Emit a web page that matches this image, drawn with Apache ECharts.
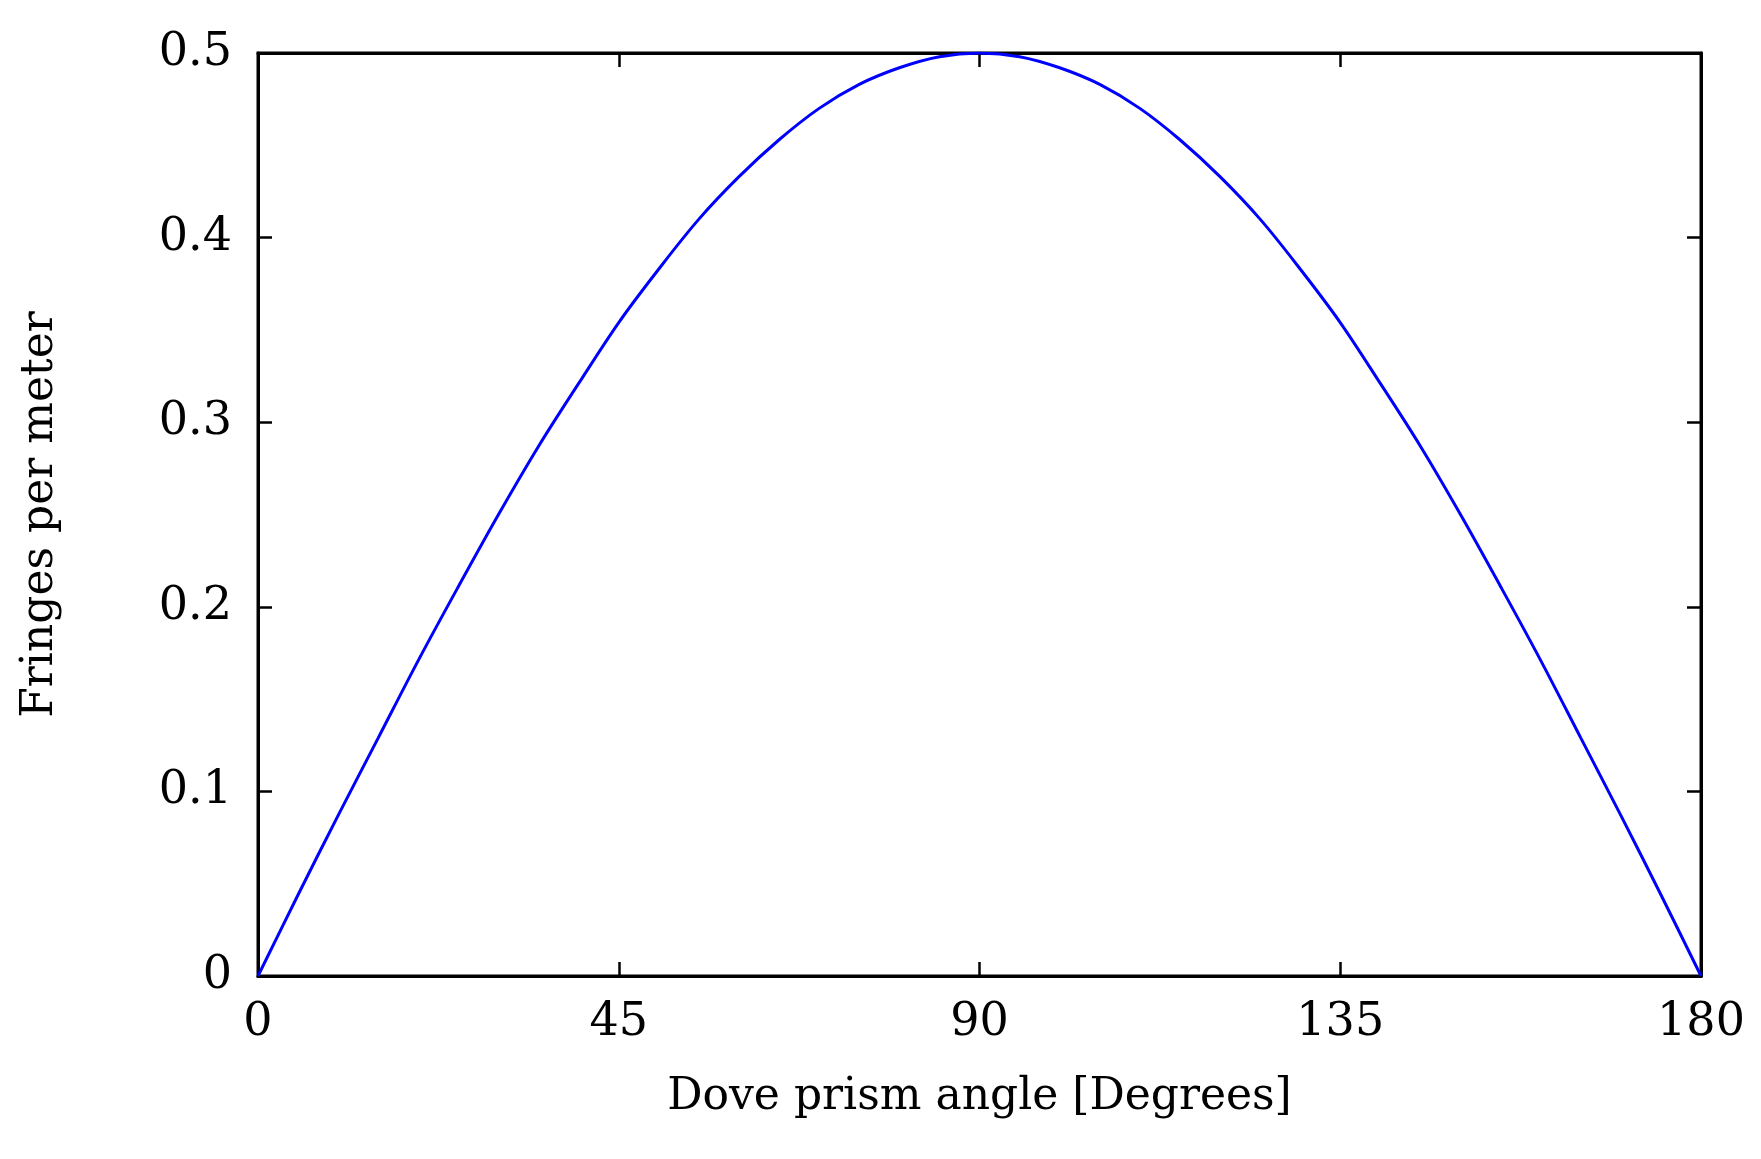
<!DOCTYPE html>
<html>
<head>
<meta charset="utf-8">
<script src="https://cdn.jsdelivr.net/npm/echarts@6/dist/echarts.min.js"></script>
<style>html,body{margin:0;padding:0;background:#fff}#chart{width:1761px;height:1159px}</style>
</head>
<body>
<div id="chart"></div>
<script>
// angle in degrees, fringes per meter
const angles = [0,5,10,15,20,25,30,35,40,45,50,55,60,65,70,75,80,85,90,95,100,105,110,115,120,125,130,135,140,145,150,155,160,165,170,175,180];
const fringes = [0,0.044,0.087,0.129,0.171,0.211,0.25,0.287,0.321,0.354,0.383,0.41,0.433,0.453,0.47,0.483,0.492,0.498,0.5,0.498,0.492,0.483,0.47,0.453,0.433,0.41,0.383,0.354,0.321,0.287,0.25,0.211,0.171,0.129,0.087,0.044,0];
const xTicks = [0,45,90,135,180];
const yTicks = [0,0.1,0.2,0.3,0.4,0.5];

const font = 'DejaVu Serif';
const chart = echarts.init(document.getElementById('chart'));
const axisCommon = {
  axisLine: { onZero: false, lineStyle: { color: '#000', width: 3 } },
  axisTick: { inside: true, length: 14, lineStyle: { color: '#000', width: 2.5 } },
  splitLine: { show: false }
};
chart.setOption({
  animation: false,
  grid: { left: 258, right: 60, top: 53, bottom: 183, show: true, borderColor: '#000', borderWidth: 3 },
  xAxis: [
    Object.assign({
      type: 'value', min: 0, max: 180, interval: 45,
      name: 'Dove prism angle [Degrees]', nameLocation: 'middle', nameGap: 100,
      nameTextStyle: { fontFamily: font, fontSize: 44, color: '#000' },
      axisLabel: { fontFamily: font, fontSize: 46, color: '#000', margin: 24 }
    }, axisCommon),
    Object.assign({ type: 'value', position: 'top', min: 0, max: 180, interval: 45, axisLabel: { show: false } }, axisCommon)
  ],
  yAxis: [
    Object.assign({
      type: 'value', min: 0, max: 0.5, interval: 0.1,
      name: 'Fringes per meter', nameLocation: 'middle', nameGap: 195,
      nameTextStyle: { fontFamily: font, fontSize: 44, color: '#000' },
      axisLabel: { fontFamily: font, fontSize: 46, color: '#000', margin: 26, formatter: v => String(+v.toFixed(1)) }
    }, axisCommon),
    Object.assign({ type: 'value', position: 'right', min: 0, max: 0.5, interval: 0.1, axisLabel: { show: false } }, axisCommon)
  ],
  series: [{
    type: 'line', smooth: 0.35, symbol: 'none',
    data: angles.map((a, i) => [a, fringes[i]]),
    lineStyle: { color: '#0000ff', width: 3 }
  }]
});
</script>
</body>
</html>
